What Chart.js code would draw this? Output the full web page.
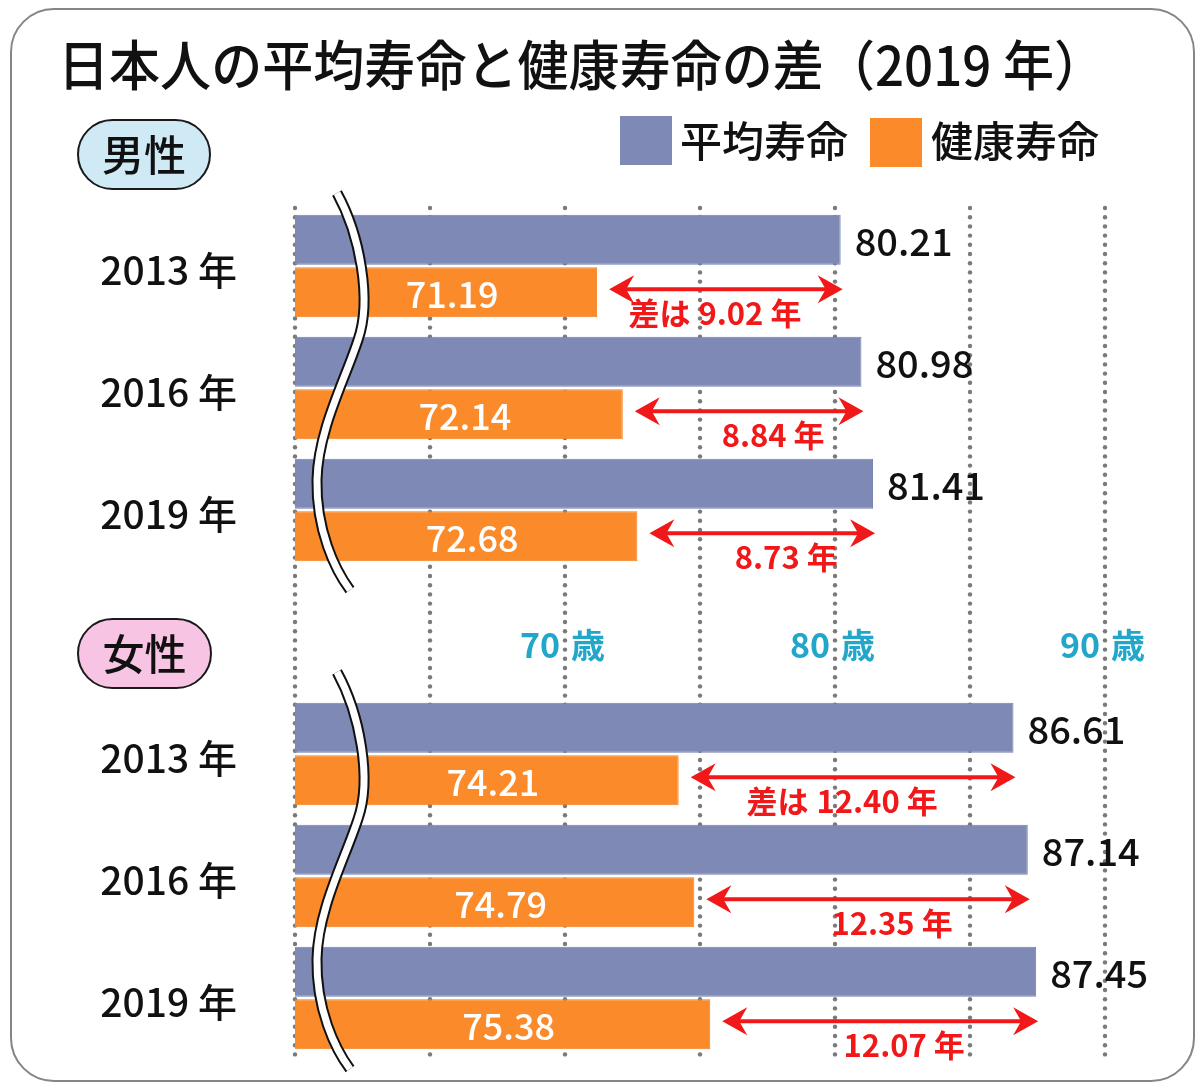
<!DOCTYPE html>
<html><head><meta charset="utf-8">
<script src="https://cdn.jsdelivr.net/npm/chart.js@4.4.1/dist/chart.umd.min.js"></script>
<style>
html,body{margin:0;padding:0;background:#fff;}
#wrap{position:relative;width:1200px;height:1089px;}
#frame{position:absolute;left:10px;top:8px;width:1181px;height:1070px;border:2px solid #858585;border-radius:44px;}
canvas{position:absolute;left:0;top:0;}
</style></head><body>
<div id="wrap"><div id="frame"></div><canvas id="c" width="1200" height="1089"></canvas></div>
<script>
const TITLE = '日本人の平均寿命と健康寿命の差（2019 年）';
const SERIES_NAMES = ['平均寿命', '健康寿命'];
const GROUP_NAMES = ['男性', '女性'];
const YEARS = ['2013 年', '2016 年', '2019 年'];
const maleAvg = [80.21, 80.98, 81.41];
const maleHealthy = [71.19, 72.14, 72.68];
const maleGap = ['9.02', '8.84', '8.73'];
const femaleAvg = [86.61, 87.14, 87.45];
const femaleHealthy = [74.21, 74.79, 75.38];
const femaleGap = ['12.40', '12.35', '12.07'];
const GRID_TICKS = [60, 65, 70, 75, 80, 85, 90];
const AGE_LABELS = [70, 80, 90];
const AGE_UNIT = '歳';
const GAP_PREFIX = '差は';
const YEAR_UNIT = '年';

const COLORS = { avg: '#7e8ab5', healthy: '#fb8b2a', red: '#f01818', cyan: '#22a7cb', text: '#111' };
const FONT = "'Noto Sans CJK JP','Noto Sans',sans-serif";

const labels = YEARS.concat([''], YEARS);
const avgData = maleAvg.concat([null], femaleAvg);
const healthyData = maleHealthy.concat([null], femaleHealthy);
const gapData = maleGap.concat([null], femaleGap);
const groups = [[0, 1, 2], [4, 5, 6]];

function drawBreak(ctx, x0, y0) {
  ctx.save();
  ctx.beginPath();
  ctx.moveTo(x0, y0);
  ctx.bezierCurveTo(x0 + 23, y0 + 42, x0 + 35, y0 + 107, x0 + 21, y0 + 147);
  ctx.bezierCurveTo(x0 + 8, y0 + 187, x0 - 19, y0 + 237, x0 - 20, y0 + 287);
  ctx.bezierCurveTo(x0 - 21, y0 + 337, x0 - 2, y0 + 377, x0 + 13, y0 + 397);
  ctx.lineCap = 'butt';
  ctx.strokeStyle = '#111'; ctx.lineWidth = 11; ctx.stroke();
  ctx.strokeStyle = '#fff'; ctx.lineWidth = 7; ctx.stroke();
  ctx.restore();
}

function drawArrow(ctx, x1, x2, y) {
  ctx.save();
  ctx.strokeStyle = COLORS.red; ctx.fillStyle = COLORS.red; ctx.lineWidth = 4;
  ctx.beginPath(); ctx.moveTo(x1 + 12, y); ctx.lineTo(x2 - 12, y); ctx.stroke();
  [[x2, -1], [x1, 1]].forEach(([tx, d]) => {
    ctx.beginPath();
    ctx.moveTo(tx, y);
    ctx.lineTo(tx + d * 25, y - 14);
    ctx.lineTo(tx + d * 17, y);
    ctx.lineTo(tx + d * 25, y + 14);
    ctx.closePath(); ctx.fill();
  });
  ctx.restore();
}

function drawBadge(ctx, x, y, w, h, fill, text) {
  ctx.save();
  ctx.beginPath(); ctx.roundRect(x, y, w, h, h / 2);
  ctx.fillStyle = fill; ctx.fill();
  ctx.lineWidth = 2; ctx.strokeStyle = '#1a1a1a'; ctx.stroke();
  ctx.fillStyle = COLORS.text; ctx.font = '500 42px ' + FONT;
  ctx.textAlign = 'center'; ctx.textBaseline = 'middle';
  ctx.fillText(text, x + w / 2, y + h / 2 + 1);
  ctx.restore();
}

const decor = {
  id: 'decor',
  beforeDatasetsDraw(chart) {
    const { ctx, chartArea } = chart;
    const xs = chart.scales.x;
    ctx.save();
    ctx.fillStyle = '#7a7a7a';
    GRID_TICKS.forEach(v => {
      const x = xs.getPixelForValue(v);
      for (let y = chartArea.top + 3; y <= chartArea.bottom + 1; y += 9.2) {
        ctx.beginPath(); ctx.arc(x, y, 2.2, 0, Math.PI * 2); ctx.fill();
      }
    });
    ctx.restore();
  },
  afterDatasetsDraw(chart) {
    const { ctx, chartArea } = chart;
    const xs = chart.scales.x, ys = chart.scales.y;
    const mA = chart.getDatasetMeta(0).data, mH = chart.getDatasetMeta(1).data;

    drawBreak(ctx, xs.getPixelForValue(GRID_TICKS[0]) + 42, chartArea.top - 12);
    drawBreak(ctx, xs.getPixelForValue(GRID_TICKS[0]) + 42, ys.getPixelForValue(3) + 40);

    ctx.save();
    groups.forEach(g => {
      g.forEach((i, k) => {
        const a = mA[i], h = mH[i];
        ctx.font = '500 38px ' + FONT; ctx.fillStyle = COLORS.text;
        ctx.textAlign = 'left'; ctx.textBaseline = 'middle';
        ctx.fillText(avgData[i].toFixed(2), a.x + 14, a.y + 2);
        ctx.font = '500 36px ' + FONT; ctx.fillStyle = '#fff'; ctx.textAlign = 'center';
        ctx.fillText(healthyData[i].toFixed(2), (h.base + h.x) / 2 + 6, h.y + 2);
        const x1 = h.x + 12, x2 = a.x + 2, ya = h.y - 3;
        drawArrow(ctx, x1, x2, ya);
        ctx.font = 'bold 31px ' + FONT; ctx.fillStyle = COLORS.red;
        const numText = gapData[i] + ' ' + YEAR_UNIT;
        const w = ctx.measureText(numText).width;
        const cx = (x1 + x2) / 2 + 24;
        ctx.textAlign = 'center';
        ctx.fillText(numText, cx, h.y + 21);
        if (k === 0) {
          ctx.textAlign = 'right';
          ctx.fillText(GAP_PREFIX, cx - w / 2 - 8, h.y + 21);
        }
      });
    });

    ctx.font = 'bold 34px ' + FONT; ctx.fillStyle = COLORS.cyan; ctx.textBaseline = 'middle';
    const ly = ys.getPixelForValue(3) + 13;
    AGE_LABELS.forEach(v => {
      const x = xs.getPixelForValue(v);
      ctx.textAlign = 'right'; ctx.fillText(String(v), x - 5, ly);
      ctx.textAlign = 'left'; ctx.fillText(AGE_UNIT, x + 6, ly);
    });

    const ds = chart.data.datasets;
    const leg = [{ bx: 620, by: 116, tx: 680 }, { bx: 870, by: 118, tx: 931 }];
    ctx.font = '500 42px ' + FONT; ctx.textAlign = 'left'; ctx.textBaseline = 'middle';
    ds.forEach((d, j) => {
      ctx.fillStyle = d.backgroundColor;
      ctx.fillRect(leg[j].bx, leg[j].by, 52, 49);
      ctx.fillStyle = COLORS.text;
      ctx.fillText(d.label, leg[j].tx, 141);
    });
    ctx.restore();

    drawBadge(ctx, 78, 120, 132, 69, '#cfeaf4', GROUP_NAMES[0]);
    drawBadge(ctx, 78, 619, 133, 69, '#f8c4e4', GROUP_NAMES[1]);
  }
};

new Chart(document.getElementById('c'), {
  type: 'bar',
  data: {
    labels: labels,
    datasets: [
      { label: SERIES_NAMES[0], data: avgData, backgroundColor: COLORS.avg, borderColor: '#7080ab', borderWidth: 1,
        base: GRID_TICKS[0], barPercentage: 0.953, categoryPercentage: 0.86 },
      { label: SERIES_NAMES[1], data: healthyData, backgroundColor: COLORS.healthy, borderColor: '#f47e1e', borderWidth: 1,
        base: GRID_TICKS[0], barPercentage: 0.953, categoryPercentage: 0.86 }
    ]
  },
  options: {
    indexAxis: 'y', responsive: false, animation: false, devicePixelRatio: 1,
    layout: { padding: { left: 58, right: 95, top: 0, bottom: 30 } },
    plugins: {
      legend: { display: false }, tooltip: { enabled: false },
      title: { display: true, text: TITLE, align: 'start', color: COLORS.text,
        font: { family: FONT, size: 54, weight: 500, lineHeight: 1.2 }, padding: { top: 33, bottom: 107.2 } }
    },
    scales: {
      x: { min: GRID_TICKS[0], max: GRID_TICKS[GRID_TICKS.length - 1],
        ticks: { display: false, stepSize: 5 }, grid: { display: false, drawTicks: false }, border: { display: false },
        afterFit(s) { s.height = 0; s.paddingLeft = 0; s.paddingRight = 0; } },
      y: { ticks: { color: COLORS.text, font: { family: FONT, size: 39, weight: 500 }, padding: 58, labelOffset: 4 },
        grid: { display: false, drawTicks: false }, border: { display: false },
        afterFit(s) { s.width = 237; s.paddingTop = 0; s.paddingBottom = 0; } }
    }
  },
  plugins: [decor]
});
</script>
</body></html>
